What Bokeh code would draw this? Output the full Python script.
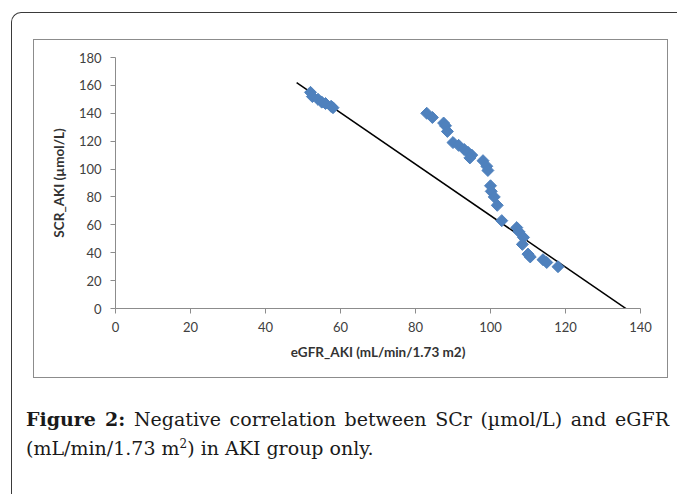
import numpy as np
from bokeh.plotting import figure
from bokeh.layouts import column
from bokeh.models import Range1d, FixedTicker, ColumnDataSource, Div
from bokeh.embed import file_html
from bokeh.resources import INLINE

# ---- data ----
egfr = [52, 52.5, 54, 55, 56, 57.5, 58,
        83, 84.5, 87.5, 88, 88.5, 90, 91.5, 93, 94, 95, 94.5, 98, 99, 99.3,
        100, 100.2, 101, 101.8, 103, 107, 107.6, 108.8, 108.5, 110, 110.6,
        114, 115, 118]
scr = [155, 152, 150, 148, 147, 145, 144,
       140, 137, 133, 131, 127, 119, 117, 114, 112, 110, 108, 106, 102, 99,
       88, 84, 80, 74, 63, 58, 55, 51, 46, 39, 37,
       35, 33, 30]
trend_slope = -1.846
trend_intercept = 251.2
trend_x = [48.3, 138.0]
x_ticks = [0, 20, 40, 60, 80, 100, 120, 140]
y_ticks = [0, 20, 40, 60, 80, 100, 120, 140, 160, 180]

# chart canvas (inner box) ~ page x 34..669, y 41..380
W, H = 635, 339
OX, OY = 34, 41
p = figure(width=W, height=H, output_backend="svg", toolbar_location=None,
           x_range=Range1d(0, 140), y_range=Range1d(0, 180),
           min_border_left=115 - OX, min_border_top=58 - OY,
           min_border_right=(OX + W) - 640, min_border_bottom=(OY + H) - 309,
           styles={"border": "1px solid #8c8c8c"},
           margin=(26, 0, 0, 21))
p.outline_line_color = None
p.grid.visible = False
p.background_fill_color = "white"
p.border_fill_color = "white"

for ax in (p.xaxis[0], p.yaxis[0]):
    ax.axis_line_color = "#8c8c8c"
    ax.major_tick_line_color = "#8c8c8c"
    ax.minor_tick_line_color = None
    ax.major_tick_out = 5
    ax.major_tick_in = 0
    ax.major_label_text_font = "Lato"
    ax.major_label_text_font_size = "13px"
    ax.major_label_text_color = "#404040"
    ax.axis_label_text_font = "Lato"
    ax.axis_label_text_font_style = "bold"
    ax.axis_label_text_font_size = "13.5px"
    ax.axis_label_text_color = "#333333"

p.xaxis.ticker = FixedTicker(ticks=x_ticks)
p.yaxis.ticker = FixedTicker(ticks=y_ticks)
p.xaxis.axis_label = "eGFR_AKI (mL/min/1.73 m2)"
p.yaxis.axis_label = "SCR_AKI (µmol/L)"
p.xaxis.major_label_standoff = 8
p.yaxis.major_label_standoff = 9
p.xaxis.axis_label_standoff = 9
p.yaxis.axis_label_standoff = 9

ty = [trend_intercept + trend_slope * x for x in trend_x]
p.line(trend_x, ty, line_color="black", line_width=1.5)

src = ColumnDataSource(dict(x=egfr, y=scr))
p.scatter("x", "y", source=src, marker="square", angle=np.pi / 4, size=8.5,
          fill_color="#4f81bd", line_color="#4f81bd")

caption = Div(
    text=('<div style="width:643px;text-align:justify;text-align-last:justify">'
          '<b>Figure 2:</b> Negative correlation between SCr (µmol/L) and eGFR</div>'
          '<div style="width:643px">(mL/min/1.73 m<sup style="font-size:12px;line-height:0">2</sup>'
          '<span>) in AKI group only.</span></div>'),
    width=643,
    margin=(27, 0, 0, 14),
    styles={"font-family": "'DejaVu Serif'", "font-size": "19px",
            "line-height": "29px", "color": "#1a1a1a"},
)

page = column(p, caption, width=666, height=482, margin=(12, 0, 0, 11),
              styles={"border-top": "1.5px solid #3a3a3a",
                      "border-left": "1.5px solid #3a3a3a",
                      "border-top-left-radius": "10px",
                      "background": "white"})

open("out.html", "w").write(file_html(page, INLINE))
